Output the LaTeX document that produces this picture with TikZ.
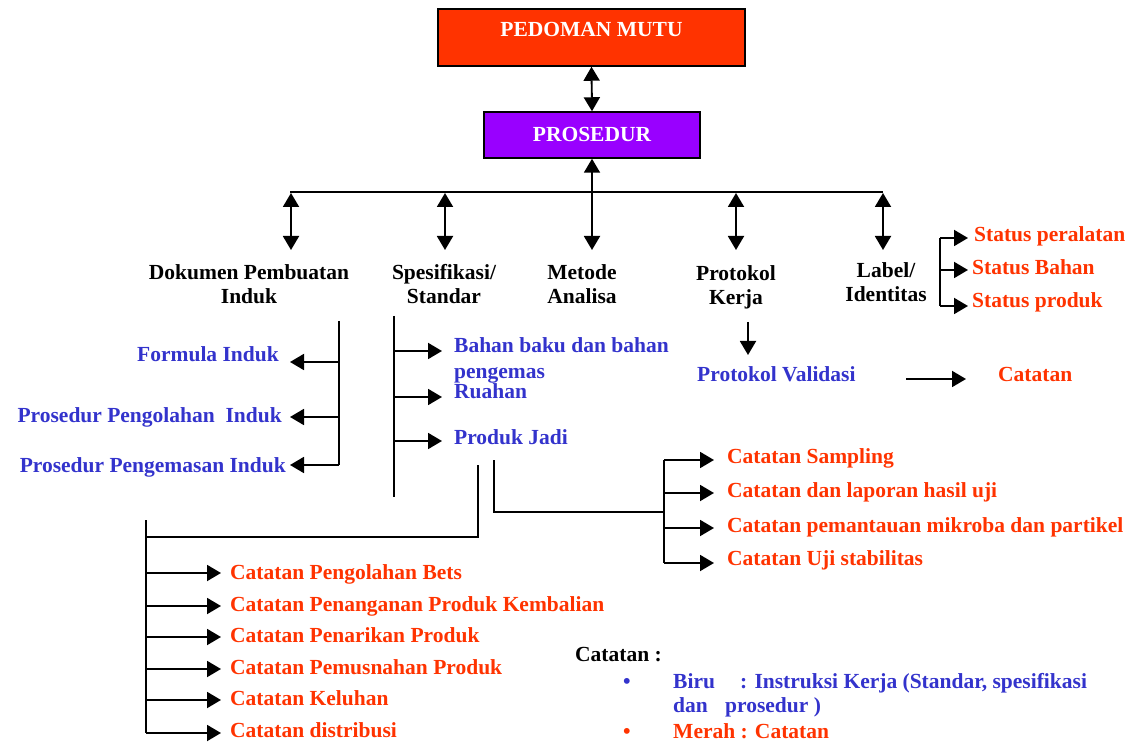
\documentclass[tikz,border=0pt]{standalone}
\usepackage{fontspec}
\setmainfont{Liberation Serif}
\usetikzlibrary{arrows.meta}
\definecolor{boxred}{RGB}{255,51,0}
\definecolor{boxpurple}{RGB}{153,0,255}
\definecolor{txtblue}{RGB}{51,51,204}
\definecolor{txtred}{RGB}{255,51,0}
\begin{document}
\begin{tikzpicture}[x=1pt,y=-1pt,
  >={Triangle[width=16pt,length=14pt]},
  every node/.style={inner sep=0pt, font=\fontsize{21.5}{24}\selectfont\bfseries},
  ln/.style={line width=1.9pt},
  arr/.style={ln,->},
  darr/.style={ln,<->},
  hdr/.style={align=center, anchor=base, text=black},
  bl/.style={text=txtblue},
  rd/.style={text=txtred},
  bx/.style={draw=black, line width=1.5pt, text=white}]
\useasboundingbox (0,0) rectangle (1136,743);

% top boxes
\node[bx, fill=boxred, minimum width=307pt, minimum height=57pt, text height=15pt, text depth=16pt] (pm) at (591.5,37.5) {PEDOMAN MUTU};
\node[bx, fill=boxpurple, minimum width=216pt, minimum height=46pt, text height=14pt, text depth=0pt] (pr) at (592,135) {PROSEDUR};
\draw[darr] (pm.south) -- (pr.north);

% bar
\coordinate (barL) at (290,192);
\coordinate (barR) at (883,192);
\draw[ln] (barL) -- (barR);
\coordinate (m1) at (592,250);
\draw[darr] (pr.south) -- (m1);
\coordinate (h1t) at (291,193); \coordinate (h1b) at (291,250);
\coordinate (h2t) at (445,193); \coordinate (h2b) at (445,250);
\coordinate (h4t) at (736,193); \coordinate (h4b) at (736,250);
\coordinate (h5t) at (883,193); \coordinate (h5b) at (883,250);
\draw[darr] (h1t) -- (h1b);
\draw[darr] (h2t) -- (h2b);
\draw[darr] (h4t) -- (h4b);
\draw[darr] (h5t) -- (h5b);

% headers (base = baseline of last line)
\node[hdr] (dok) at (249,304) {Dokumen Pembuatan\\Induk};
\node[hdr] (spe) at (444,304) {Spesifikasi/\\Standar};
\node[hdr] (met) at (582,304) {Metode\\Analisa};
\node[hdr] (pro) at (736,305) {Protokol\\Kerja};
\node[hdr] (lab) at (886,302) {Label/\\Identitas};

% status
\coordinate (sT) at (940,238);
\coordinate (sM) at (940,270);
\coordinate (sB) at (940,306);
\draw[ln] (sT) -- (sB);
\node[rd, anchor=base west] (st1) at (974,242) {Status peralatan};
\node[rd, anchor=base west] (st2) at (972,275) {Status Bahan};
\node[rd, anchor=base west] (st3) at (972,308) {Status produk};
\draw[arr] (sT) -- ([xshift=-6pt]sT -| st1.west);
\draw[arr] (sM) -- ([xshift=-4pt]sM -| st2.west);
\draw[arr] (sB) -- ([xshift=-4pt]sB -| st3.west);

% dokumen bracket
\coordinate (dT) at (339,321);
\coordinate (d1) at (339,362);
\coordinate (d2) at (339,417);
\coordinate (dB) at (339,465);
\draw[ln] (dT) -- (dB);
\node[bl, anchor=base east] (fi) at (279,362) {Formula Induk};
\node[bl, anchor=base east] (ppi) at (282,422) {Prosedur Pengolahan\ \ Induk};
\node[bl, anchor=base east] (pmi) at (286,472) {Prosedur Pengemasan Induk};
\draw[arr] (d1) -- ([xshift=11pt]d1 -| fi.east);
\draw[arr] (d2) -- ([xshift=8pt]d2 -| ppi.east);
\draw[arr] (dB) -- ([xshift=4pt]dB -| pmi.east);

% spesifikasi bracket
\coordinate (q0) at (394,316);
\coordinate (q1) at (394,351);
\coordinate (q2) at (394,397);
\coordinate (q3) at (394,441);
\coordinate (q4) at (394,497);
\draw[ln] (q0) -- (q4);
\node[bl, anchor=base west] (bb) at (454,353) {Bahan baku dan bahan};
\node[bl, anchor=base west] (pg) at (454,379) {pengemas};
\node[bl, anchor=base west] (ru) at (454,399) {Ruahan};
\node[bl, anchor=base west] (pj) at (454,445) {Produk Jadi};
\draw[arr] (q1) -- ([xshift=-12pt]q1 -| bb.west);
\draw[arr] (q2) -- ([xshift=-12pt]q2 -| ru.west);
\draw[arr] (q3) -- ([xshift=-12pt]q3 -| pj.west);

% protokol
\coordinate (pk1) at (748,322);
\coordinate (pk2) at (748,355);
\draw[arr] (pk1) -- (pk2);
\node[bl, anchor=base west] (pv) at (697,382) {Protokol Validasi};
\node[rd, anchor=base west] (ct) at (998,382) {Catatan};
\coordinate (c1) at (906,379);
\draw[arr] (c1) -- ([xshift=-32pt]c1 -| ct.west);

% produk jadi bracket
\coordinate (j1) at (494,460);
\coordinate (j2) at (494,512);
\coordinate (j3) at (664,512);
\coordinate (j4) at (664,460);
\coordinate (j5) at (664,493);
\coordinate (j6) at (664,528);
\coordinate (j7) at (664,563);
\draw[ln] (j1) -- (j2) -- (j3);
\draw[ln] (j4) -- (j7);
\node[rd, anchor=base west] (cs) at (727,463) {Catatan Sampling};
\node[rd, anchor=base west] (cl) at (727,497) {Catatan dan laporan hasil uji};
\node[rd, anchor=base west] (cm) at (727,532) {Catatan pemantauan mikroba dan partikel};
\node[rd, anchor=base west] (cu) at (727,565) {Catatan Uji stabilitas};
\draw[arr] (j4) -- ([xshift=-13pt]j4 -| cs.west);
\draw[arr] (j5) -- ([xshift=-13pt]j5 -| cl.west);
\draw[arr] (j6) -- ([xshift=-13pt]j6 -| cm.west);
\draw[arr] (j7) -- ([xshift=-13pt]j7 -| cu.west);

% lower-left bracket
\coordinate (k1) at (478,465);
\coordinate (k2) at (478,537);
\coordinate (k3) at (146,537);
\coordinate (k4) at (146,520);
\coordinate (r1) at (146,573);
\coordinate (r2) at (146,606);
\coordinate (r3) at (146,637);
\coordinate (r4) at (146,669);
\coordinate (r5) at (146,700);
\coordinate (r6) at (146,733);
\draw[ln] (k1) -- (k2) -- (k3);
\draw[ln] (k4) -- (r6);
\node[rd, anchor=base west] (e1) at (230,579) {Catatan Pengolahan Bets};
\node[rd, anchor=base west] (e2) at (230,611) {Catatan Penanganan Produk Kembalian};
\node[rd, anchor=base west] (e3) at (230,642) {Catatan Penarikan Produk};
\node[rd, anchor=base west] (e4) at (230,674) {Catatan Pemusnahan Produk};
\node[rd, anchor=base west] (e5) at (230,705) {Catatan Keluhan};
\node[rd, anchor=base west] (e6) at (230,737) {Catatan distribusi};
\draw[arr] (r1) -- ([xshift=-9pt]r1 -| e1.west);
\draw[arr] (r2) -- ([xshift=-9pt]r2 -| e2.west);
\draw[arr] (r3) -- ([xshift=-9pt]r3 -| e3.west);
\draw[arr] (r4) -- ([xshift=-9pt]r4 -| e4.west);
\draw[arr] (r5) -- ([xshift=-9pt]r5 -| e5.west);
\draw[arr] (r6) -- ([xshift=-9pt]r6 -| e6.west);

% legend
\node[anchor=base west] (leg) at (575,661) {Catatan :};
\node[bl, anchor=base] (bu1) at (627,688) {\textbullet};
\node[bl, anchor=base west] (biru) at (673,688) {\makebox[67pt][l]{Biru}: Instruksi Kerja (Standar, spesifikasi};
\node[bl, anchor=base west] (dan) at (673,712) {\makebox[52pt][l]{dan}prosedur )};
\node[rd, anchor=base] (bu2) at (627,738) {\textbullet};
\node[rd, anchor=base west] (merah) at (673,738) {Merah : Catatan};
\end{tikzpicture}
\end{document}
